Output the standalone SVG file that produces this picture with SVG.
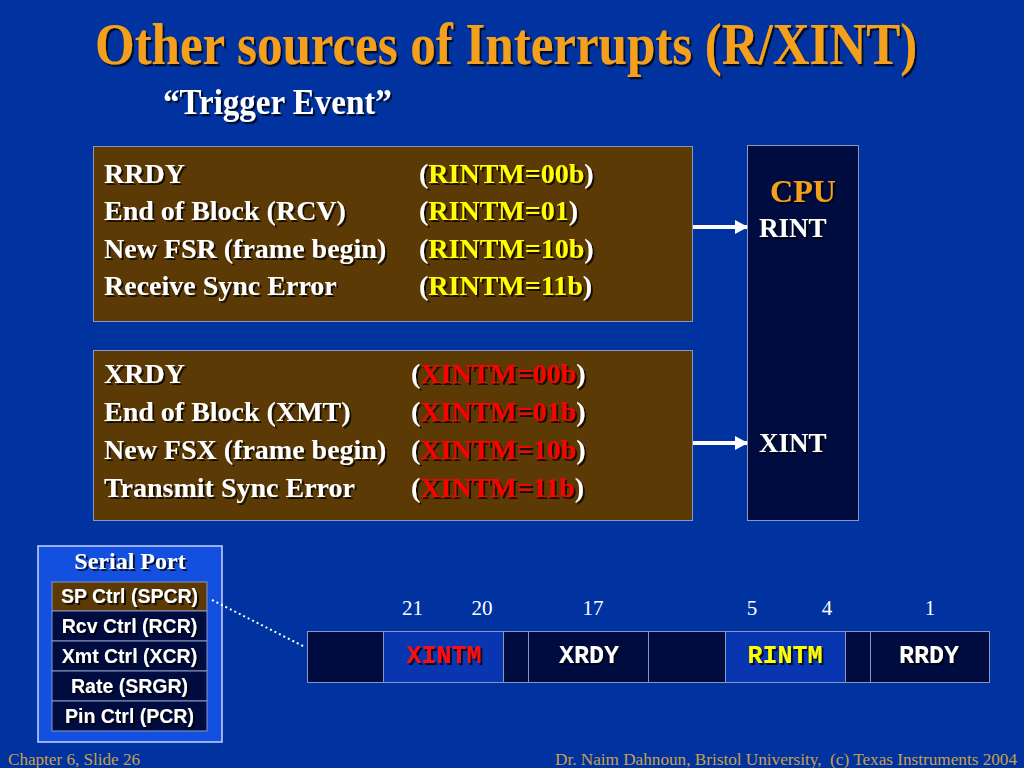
<svg xmlns="http://www.w3.org/2000/svg" width="1024" height="768" viewBox="0 0 1024 768">
<defs>
<filter id="sh" x="-20%" y="-50%" width="140%" height="200%">
<feDropShadow dx="2" dy="2" stdDeviation="0.6" flood-color="#000" flood-opacity="0.75"/>
</filter>
<marker id="ah" markerWidth="13" markerHeight="14" refX="12" refY="7" orient="auto" markerUnits="userSpaceOnUse">
<path d="M0,0 L13,7 L0,14 z" fill="#ffffff"/>
</marker>
</defs>
<style>
.serif{font-family:"Liberation Serif","Times New Roman",serif;font-weight:bold}
.sans{font-family:"Liberation Sans",Arial,sans-serif;font-weight:bold}
.mono{font-family:"Liberation Mono","Courier New",monospace;font-weight:bold}
.body{font-size:28px;fill:#ffffff}
.yel{fill:#ffff00}
.red{fill:#ff0000}
.brown{fill:#5c3a06;stroke:#8a96c0;stroke-width:1}
.navy{fill:#000c40;stroke:#8a96c0;stroke-width:1}
.cell{stroke:#8a96c0;stroke-width:1}
.bit{font-family:"Liberation Serif","Times New Roman",serif;font-size:21px;fill:#ffffff}
.foot{font-family:"Liberation Serif","Times New Roman",serif;font-size:17px;fill:#c8a048}
.reg{font-size:19.5px;fill:#ffffff}
</style>
<rect width="1024" height="768" fill="#0033a0"/>

<g id="title">
<text class="serif" x="95" y="0" font-size="51" fill="#f5a01a" transform="translate(0,64) scale(1,1.15)" filter="url(#sh)">Other sources of Interrupts (R/XINT)</text>
<text class="serif" x="163" y="0" font-size="33" fill="#ffffff" transform="translate(0,114) scale(1,1.1)" filter="url(#sh)">“Trigger Event”</text>
</g>

<g id="rint-box">
<rect class="brown" x="93.5" y="146.5" width="599" height="175"/>
<g class="serif body" filter="url(#sh)">
<text x="104" y="183">RRDY</text>
<text x="419" y="183">(<tspan class="yel">RINTM=00b</tspan>)</text>
<text x="104" y="220">End of Block (RCV)</text>
<text x="419" y="220">(<tspan class="yel">RINTM=01</tspan>)</text>
<text x="104" y="258">New FSR (frame begin)</text>
<text x="419" y="258">(<tspan class="yel">RINTM=10b</tspan>)</text>
<text x="104" y="295">Receive Sync Error</text>
<text x="419" y="295">(<tspan class="yel">RINTM=11b</tspan>)</text>
</g>
</g>

<g id="xint-box">
<rect class="brown" x="93.5" y="350.5" width="599" height="170"/>
<g class="serif body" filter="url(#sh)">
<text x="104" y="383">XRDY</text>
<text x="411" y="383">(<tspan class="red">XINTM=00b</tspan>)</text>
<text x="104" y="421">End of Block (XMT)</text>
<text x="411" y="421">(<tspan class="red">XINTM=01b</tspan>)</text>
<text x="104" y="459">New FSX (frame begin)</text>
<text x="411" y="459">(<tspan class="red">XINTM=10b</tspan>)</text>
<text x="104" y="497">Transmit Sync Error</text>
<text x="411" y="497">(<tspan class="red">XINTM=11b</tspan>)</text>
</g>
</g>

<g id="cpu">
<rect class="navy" x="747.5" y="145.5" width="111" height="375"/>
<text class="serif" x="803" y="202" font-size="32" fill="#f5a01a" text-anchor="middle" filter="url(#sh)">CPU</text>
<text class="serif" x="759" y="237" font-size="27" fill="#ffffff" filter="url(#sh)">RINT</text>
<text class="serif" x="759" y="452" font-size="27" fill="#ffffff" filter="url(#sh)">XINT</text>
</g>

<g id="serial-port">
<rect x="38" y="546" width="184" height="196" fill="#1450e0" stroke="#c8d4ff" stroke-width="1.5"/>
<text class="serif" x="130" y="569" font-size="24" fill="#ffffff" text-anchor="middle" filter="url(#sh)">Serial Port</text>
<rect class="brown" x="52" y="582" width="155" height="29" stroke="#c0c8e0"/>
<rect class="navy" x="52" y="611" width="155" height="30" stroke="#c0c8e0"/>
<rect class="navy" x="52" y="641" width="155" height="30" stroke="#c0c8e0"/>
<rect class="navy" x="52" y="671" width="155" height="30" stroke="#c0c8e0"/>
<rect class="navy" x="52" y="701" width="155" height="30" stroke="#c0c8e0"/>
<g class="sans reg" text-anchor="middle" filter="url(#sh)">
<text x="129.5" y="603">SP Ctrl (SPCR)</text>
<text x="129.5" y="633">Rcv Ctrl (RCR)</text>
<text x="129.5" y="663">Xmt Ctrl (XCR)</text>
<text x="129.5" y="693">Rate (SRGR)</text>
<text x="129.5" y="723">Pin Ctrl (PCR)</text>
</g>
</g>

<g id="register">
<rect class="cell" x="307.5" y="631.5" width="76" height="51" fill="#000c40"/>
<rect class="cell" x="383.5" y="631.5" width="120" height="51" fill="#0836b0"/>
<rect class="cell" x="503.5" y="631.5" width="25" height="51" fill="#000c40"/>
<rect class="cell" x="528.5" y="631.5" width="120" height="51" fill="#000c40"/>
<rect class="cell" x="648.5" y="631.5" width="77" height="51" fill="#000c40"/>
<rect class="cell" x="725.5" y="631.5" width="120" height="51" fill="#0836b0"/>
<rect class="cell" x="845.5" y="631.5" width="25" height="51" fill="#000c40"/>
<rect class="cell" x="870.5" y="631.5" width="119" height="51" fill="#000c40"/>
<g class="mono" font-size="25" text-anchor="middle" filter="url(#sh)">
<text x="444" y="663" fill="#ff1010">XINTM</text>
<text x="589" y="663" fill="#ffffff">XRDY</text>
<text x="785" y="663" fill="#ffff00">RINTM</text>
<text x="929" y="663" fill="#ffffff">RRDY</text>
</g>
<g class="bit" text-anchor="middle">
<text x="412.5" y="615">21</text>
<text x="482" y="615">20</text>
<text x="593" y="615">17</text>
<text x="752" y="615">5</text>
<text x="827" y="615">4</text>
<text x="930" y="615">1</text>
</g>
</g>

<g id="connectors" fill="none" stroke="#ffffff">
<line x1="693" y1="227" x2="747" y2="227" stroke-width="4" marker-end="url(#ah)"/>
<line x1="693" y1="443" x2="747" y2="443" stroke-width="4" marker-end="url(#ah)"/>
<line x1="212" y1="600" x2="305" y2="647" stroke-width="2" stroke-dasharray="2 3"/>
</g>

<g id="footer">
<text class="foot" x="8" y="765" textLength="132" lengthAdjust="spacingAndGlyphs">Chapter 6, Slide 26</text>
<text class="foot" x="555" y="765" textLength="462" lengthAdjust="spacingAndGlyphs" xml:space="preserve">Dr. Naim Dahnoun, Bristol University,  (c) Texas Instruments 2004</text>
</g>
</svg>
